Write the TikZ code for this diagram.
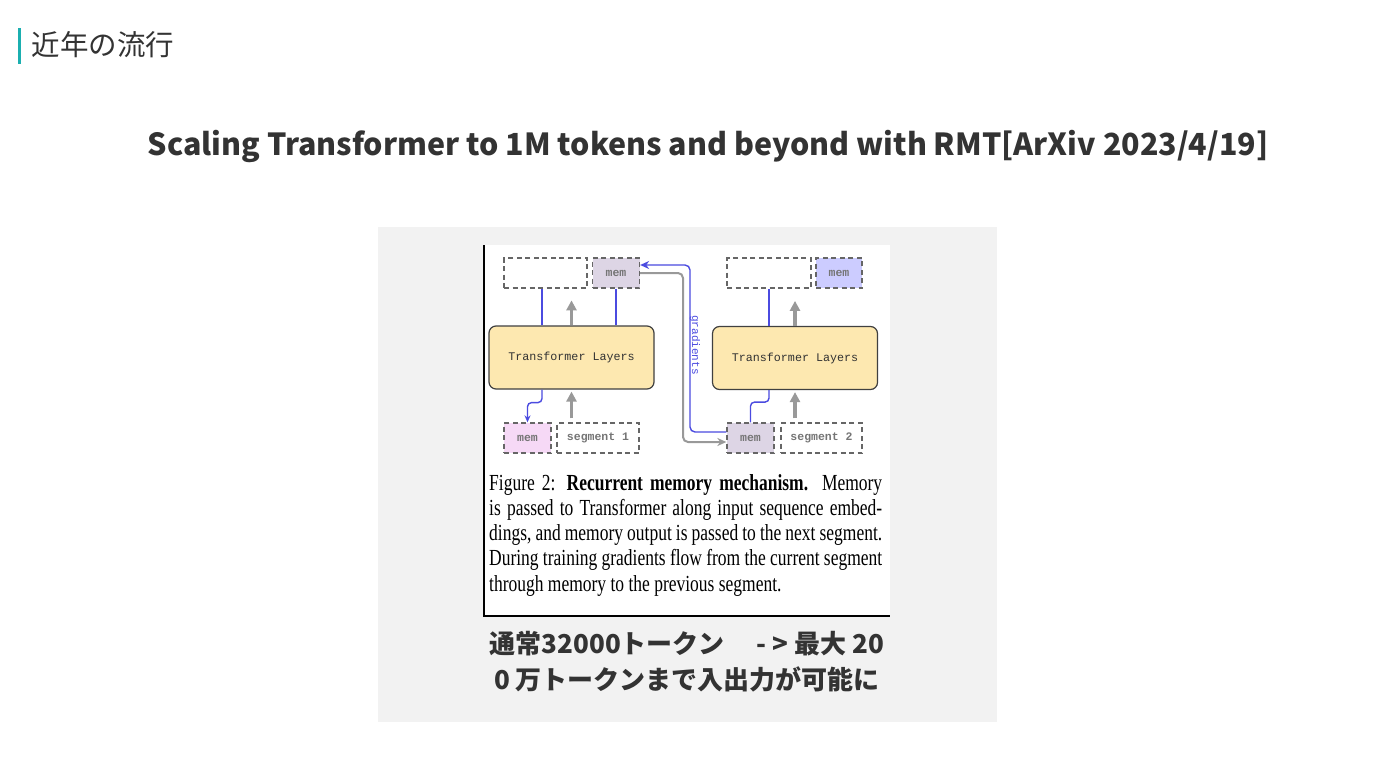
\documentclass[tikz,border=0pt]{standalone}
\usepackage{fontspec}
\setmainfont{Liberation Serif}
\newfontfamily\jpfont{Noto Sans CJK JP}
\newfontfamily\codefont{Liberation Mono}
\newfontfamily\capfont[FakeStretch=0.76]{Liberation Serif}
\usetikzlibrary{arrows.meta}

\definecolor{textgray}{HTML}{333333}
\definecolor{barteal}{HTML}{1BAFB0}
\definecolor{panelgray}{HTML}{F2F2F2}
\definecolor{layerfill}{HTML}{FDE8B0}
\definecolor{memgray}{HTML}{DDD5E5}
\definecolor{mempink}{HTML}{F6D9F6}
\definecolor{memblue}{HTML}{CCCCFF}
\definecolor{flowblue}{HTML}{4B4BE0}
\definecolor{flowgray}{HTML}{999999}
\definecolor{boxgray}{HTML}{666666}

\tikzset{
  slot/.style={draw=boxgray, line width=1.3pt, dash pattern=on 5pt off 3.5pt,
    minimum height=30pt, inner sep=0pt, text=boxgray!90,
    font=\codefont\bfseries\fontsize{11.5}{12}\selectfont},
  layers/.style={draw=black!75, fill=layerfill, rounded corners=7pt,
    line width=1.2pt, minimum width=165pt, minimum height=63pt,
    font=\codefont\fontsize{11.7}{12}\selectfont, text=textgray},
  feed/.style={flowgray, line width=3.5pt, -{Triangle[length=10pt,width=10pt]}},
  flow/.style={flowblue, line width=1.4pt},
  pass/.style={flowgray, line width=2pt, rounded corners=5pt,
    -{Stealth[length=9pt,width=8pt]}}
}
\newcommand{\capfull}[1]{\makebox[393pt][s]{#1}}

\begin{document}
\begin{tikzpicture}[x=1pt,y=-1pt]
\useasboundingbox (0,0) rectangle (1375,773);
\fill[white] (0,0) rectangle (1375,773);

% heading
\fill[barteal] (18,28) rectangle (21,64);
\node[anchor=west, text=textgray, font=\jpfont\fontsize{28.5}{30}\selectfont] (heading) at (28,45) {近年の流行};
\node[anchor=base, text=textgray, font=\jpfont\bfseries\fontsize{30.4}{36}\selectfont] (title) at (708,155)
  {Scaling Transformer to 1M tokens and beyond with RMT[ArXiv 2023/4/19]};

% panel and figure
\fill[panelgray] (378,227) rectangle (997,722);
\fill[white] (484,245) rectangle (890,616);
\draw[line width=1.2pt] (484,245) -- (484,616) -- (890,616);

% segment 1
\node[layers] (layers1) at (571.5,357.5) {Transformer Layers};
\node[slot, minimum width=83pt] (out1) at (545.5,273) {};
\node[slot, fill=memgray, minimum width=47pt] (memout1) at (616,273) {mem};
\node[slot, fill=mempink, minimum width=47pt] (memin1) at (527.5,438) {mem};
\node[slot, minimum width=82pt] (seg1) at (598,438) {segment 1};

% segment 2
\node[layers] (layers2) at (795,358) {Transformer Layers};
\node[slot, minimum width=84pt] (out2) at (769,273) {};
\node[slot, fill=memblue, minimum width=46pt] (memout2) at (839,273) {mem};
\node[slot, fill=memgray, minimum width=47pt] (memin2) at (750.5,438) {mem};
\node[slot, minimum width=81pt] (seg2) at (821.5,438) {segment 2};

\draw[feed] (layers1.north) -- ++(0,-25);
\draw[feed] ([yshift=4pt]layers1.south |- seg1.north) -- ([yshift=-2pt]layers1.south);
\draw[feed] (layers2.north) -- ++(0,-25);
\draw[feed] ([yshift=4pt]layers2.south |- seg2.north) -- ([yshift=-2pt]layers2.south);

\draw[flow] ([xshift=-29.5pt]layers1.north) -- ([xshift=-29.5pt]layers1.north |- out1.south);
\draw[flow] (memout1.south) -- (memout1.south |- layers1.north);
\draw[flow, rounded corners=4pt, -{Stealth[length=7pt,width=6pt]}]
  ([xshift=-29.5pt]layers1.south) -- ++(0,13) -| (memin1.north);
\draw[flow] (out2.south) -- (out2.south |- layers2.north);
\draw[flow, rounded corners=4pt] ([xshift=-26pt]layers2.south) -- ++(0,12) -| (memin2.north);

% memory passing and gradients
\coordinate (gradturn) at (690,265);
\coordinate (passturn) at (683,273);
\draw[flow, rounded corners=5pt, -{Stealth[length=9pt,width=8pt]}]
  ([yshift=6pt]memin2.west) -| (gradturn) -- ([yshift=8pt]memout1.east);
\draw[pass] (memout1.east) -- (passturn) |- ([yshift=-4pt]memin2.west);
\node[rotate=-90, text=flowblue, font=\codefont\fontsize{11}{11}\selectfont] (gradlabel) at (695,345) {gradients};

% caption
\node[anchor=north west, inner sep=0pt, align=left,
  font=\capfont\fontsize{23}{25.25}\selectfont] (caption) at (489,474)
  {\capfull{Figure 2: \textbf{Recurrent memory mechanism.} Memory}\\
   \capfull{is passed to Transformer along input sequence embed-}\\
   \capfull{dings, and memory output is passed to the next segment.}\\
   \capfull{During training gradients flow from the current segment}\\
   through memory to the previous segment.};

% note
\node[align=center, text=textgray, font=\jpfont\bfseries\fontsize{26}{36.5}\selectfont] (note) at (687,661.5)
  {通常32000トークン　 - > 最大 20\\0 万トークンまで入出力が可能に};
\end{tikzpicture}
\end{document}
